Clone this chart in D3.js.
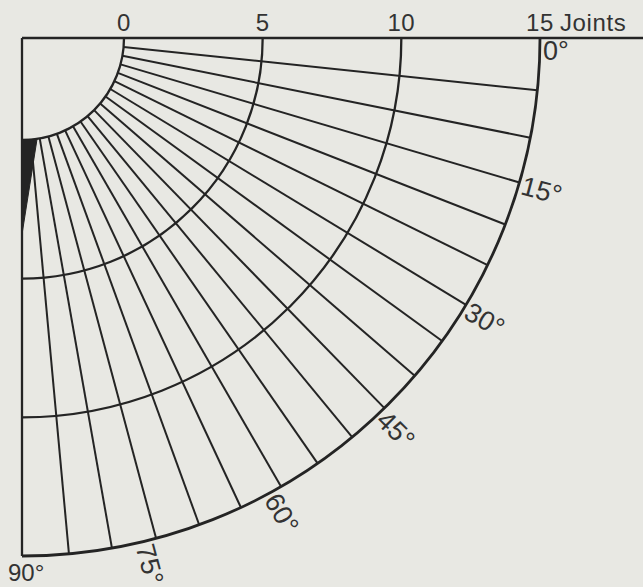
<!DOCTYPE html>
<html>
<head>
<meta charset="utf-8">
<script src="https://cdn.jsdelivr.net/npm/d3@7"></script>
<style>
  html, body { margin: 0; padding: 0; background: #e8e8e3; }
  svg { display: block; }
  .grid-line { fill: none; stroke: #242424; stroke-width: 2; }
  .arc-line { fill: none; stroke: #242424; stroke-width: 2.3; }
  .arc-line--outer { stroke-width: 2.8; }
  .frame-line { fill: none; stroke: #242424; stroke-width: 2.3; }
  .wedge { fill: #242424; stroke: #242424; stroke-width: 1; }
  .axis-label { font-family: "Liberation Sans", Arial, Helvetica, sans-serif; font-size: 24px; fill: #333; letter-spacing: 0.6px; }
  .angle-label { font-family: "Liberation Sans", Arial, Helvetica, sans-serif; font-size: 27px; fill: #333; }
</style>
</head>
<body>
<svg id="chart" width="643" height="587"></svg>
<script>
// joints scale ticks (top axis) and the arcs drawn for them
const JOINT_TICKS = [0, 5, 10, 15];
const JOINT_UNIT = "Joints";
// strike directions (degrees) of the spokes, at the 0 arc
const SPOKE_ANGLES = [5, 10, 15, 20, 25, 30, 35, 40, 45, 50, 55, 60, 65, 70, 75, 80, 85];
// where the same spokes meet the 15 arc -- the printed grid fans out a little near 0
const SPOKE_OUTER_ANGLES = [5.8, 11.1, 16.2, 21.1, 26, 31, 35.8, 40.7, 45.6, 50.4, 55.2, 60, 65, 70, 75, 80, 84.8];
const ANGLE_LABELS = [0, 15, 30, 45, 60, 75, 90];
// filled sliver next to the 90 degree edge: [angle, joints]
const WEDGE_ANGLES = [90, 81.5, 90];
const WEDGE_JOINTS = [0, 0, 3.4];

const width = 643;
const height = 587;
const cx = 22;
const cy = 38;

const svg = d3.select("#chart");

const rScale = d3.scaleLinear().domain([0, 15]).range([102, 518]);
const aScale = d3.scaleLinear().domain([0, 90]).range([0, Math.PI / 2]);

function point(deg, joints) {
  const a = aScale(deg);
  const rad = rScale(joints);
  return [cx + rad * Math.cos(a), cy + rad * Math.sin(a)];
}

function drawSpokes() {
  const spokes = SPOKE_ANGLES.map((a, i) => ({ inner: a, outer: SPOKE_OUTER_ANGLES[i] }));
  svg.append("g").attr("class", "spokes")
    .selectAll("line")
    .data(spokes)
    .join("line")
    .attr("class", "grid-line")
    .attr("x1", d => point(d.inner, 0)[0]).attr("y1", d => point(d.inner, 0)[1])
    .attr("x2", d => point(d.outer, 15)[0]).attr("y2", d => point(d.outer, 15)[1]);
}

function drawArcs() {
  svg.append("g").attr("class", "arcs")
    .selectAll("path")
    .data(JOINT_TICKS)
    .join("path")
    .attr("class", d => d === 15 ? "arc-line arc-line--outer" : "arc-line")
    .attr("d", d => {
      const p = d3.path();
      const [x0, y0] = point(0, d);
      p.moveTo(x0, y0);
      p.arc(cx, cy, rScale(d), aScale(0), aScale(90));
      return p.toString();
    });
}

function drawFrame() {
  // top axis runs off to the right edge, left edge is the 90 degree line
  svg.append("line").attr("class", "frame-line")
    .attr("x1", cx).attr("y1", cy).attr("x2", width).attr("y2", cy);
  svg.append("line").attr("class", "frame-line")
    .attr("x1", cx).attr("y1", cy).attr("x2", cx).attr("y2", point(90, 15)[1]);
}

function drawWedge() {
  const pts = WEDGE_ANGLES.map((a, i) => point(a, WEDGE_JOINTS[i]));
  svg.append("path")
    .attr("class", "wedge")
    .attr("d", d3.line()(pts) + "Z");
}

function drawLabels() {
  const g = svg.append("g").attr("class", "labels");

  g.selectAll("text.axis-label")
    .data(JOINT_TICKS)
    .join("text")
    .attr("class", "axis-label")
    .attr("x", d => cx + rScale(d))
    .attr("y", 31)
    .attr("text-anchor", "middle")
    .text(d => d);

  g.append("text")
    .attr("class", "axis-label")
    .attr("x", cx + rScale(15) + 20)
    .attr("y", 31)
    .text(JOINT_UNIT);

  const outer = rScale(15);
  g.selectAll("text.angle-label")
    .data(ANGLE_LABELS)
    .join("text")
    .attr("class", "angle-label")
    .style("font-size", d => d === 90 ? "24px" : null)
    .attr("transform", d => {
      if (d === 90) {
        const [x, y] = point(90, 15);
        return `translate(${x - 14},${y + 25})`;
      }
      const a = aScale(d);
      const x = cx + (outer + 3) * Math.cos(a);
      const y = cy + (outer + 3) * Math.sin(a);
      return `translate(${x},${y}) rotate(${d}) translate(0,22)`;
    })
    .text(d => d + "°");
}

drawSpokes();
drawArcs();
drawFrame();
drawWedge();
drawLabels();
</script>
</body>
</html>
